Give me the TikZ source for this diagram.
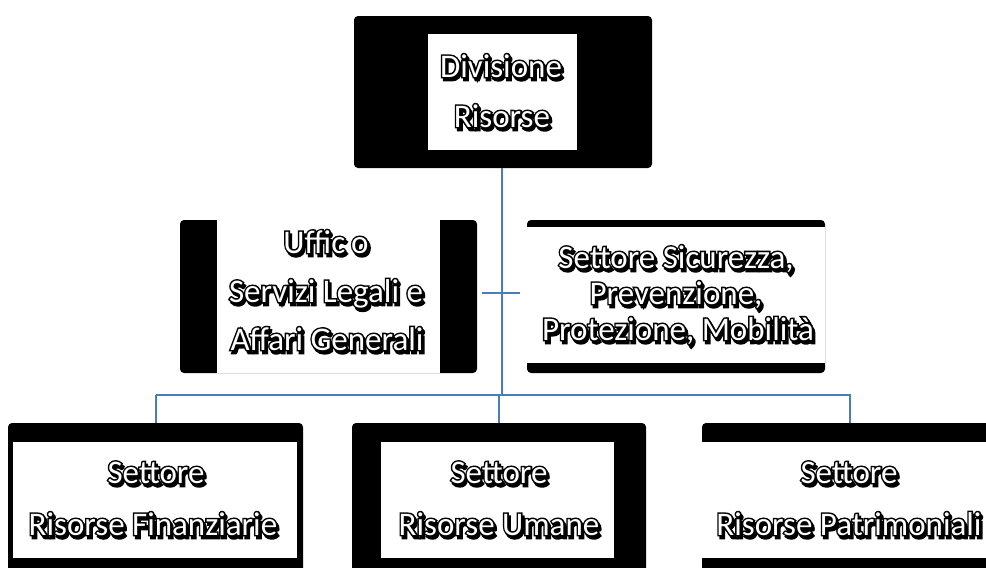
\documentclass[tikz,border=0pt]{standalone}
\usepackage{fontspec}
\setmainfont{Carlito}
% a thickened face of the same font, used for the dark rim round the letters
\newfontfamily\haloface[RawFeature={embolden=9}]{Carlito}
\definecolor{linkblue}{HTML}{4A7EBB}
% white lettering with a black rim and a dropped black shadow
\newcommand{\halo}[1]{\rlap{\hspace{2pt}\raisebox{-3pt}{\haloface #1}}\rlap{\haloface #1}\textcolor{white}{#1}}
\begin{document}
\begin{tikzpicture}[x=1pt,y=-1pt,
  blackbox/.style={fill=black, rounded corners=4pt, inner sep=0pt, draw=none},
  label/.style={anchor=base, inner sep=0pt, text=black, font=\fontsize{33}{40}\selectfont},
  link/.style={draw=linkblue, line width=2pt}]
\useasboundingbox (0,0) rectangle (986,568);
\clip (0,0) rectangle (986,568);

% top unit
\node[blackbox, minimum width=298pt, minimum height=152pt] (div) at (503,92) {};
\fill[white] (428,34) rectangle (577,150);
\node[label] (divA) at (501,77) {\halo{Divisione}};
\node[label] (divB) at (502,127) {\halo{Risorse}};

% staff offices
\node[blackbox, minimum width=297pt, minimum height=153pt] (uff) at (328.5,296.5) {};
\fill[white] (217,220) rectangle (440,373);
\node[label] (uffA) at (326,253) {\halo{Uffic\hspace{6pt}o}};
\node[label] (uffB) at (326,302) {\halo{Servizi Legali e}};
\node[label] (uffC) at (327,350) {\halo{Affari Generali}};

\node[blackbox, minimum width=298pt, minimum height=153pt] (sic) at (676,296.5) {};
\fill[white] (527,227) rectangle (825,363);
\node[label] (sicA) at (676,268) {\halo{Settore Sicurezza,}};
\node[label] (sicB) at (676,304) {\halo{Prevenzione,}};
\node[label] (sicC) at (678,340) {\halo{Protezione, Mobilità}};

% sectors
\node[blackbox, minimum width=295pt, minimum height=180pt] (fin) at (155.5,513) {};
\fill[white] (13,442) rectangle (297,558);
\node[label] (finA) at (156,483) {\halo{Settore}};
\node[label] (finB) at (153,535) {\halo{Risorse Finanziarie}};

\node[blackbox, minimum width=294pt, minimum height=180pt] (uma) at (499,513) {};
\fill[white] (381,442) rectangle (614,558);
\node[label] (umaA) at (499,483) {\halo{Settore}};
\node[label] (umaB) at (499,535) {\halo{Risorse Umane}};

\node[blackbox, minimum width=295pt, minimum height=180pt] (pat) at (849.5,513) {};
\fill[white] (702,442) rectangle (1000,558);
\node[label] (patA) at (849,483) {\halo{Settore}};
\node[label] (patB) at (849,535) {\halo{Risorse Patrimoniali}};

% connectors
\coordinate (bus) at (502,395);
\draw[link] (div.south -| bus) -- (bus);
\draw[link] ([xshift=5pt]uff.east |- 0,293) -- ([xshift=-7pt]sic.west |- 0,293);
\draw[link] (fin.north |- bus) -| (fin.north);
\draw[link] (fin.north |- bus) -- (pat.north |- bus) -- (pat.north);
\draw[link] (uma.north |- bus) -- (uma.north);
\end{tikzpicture}
\end{document}
